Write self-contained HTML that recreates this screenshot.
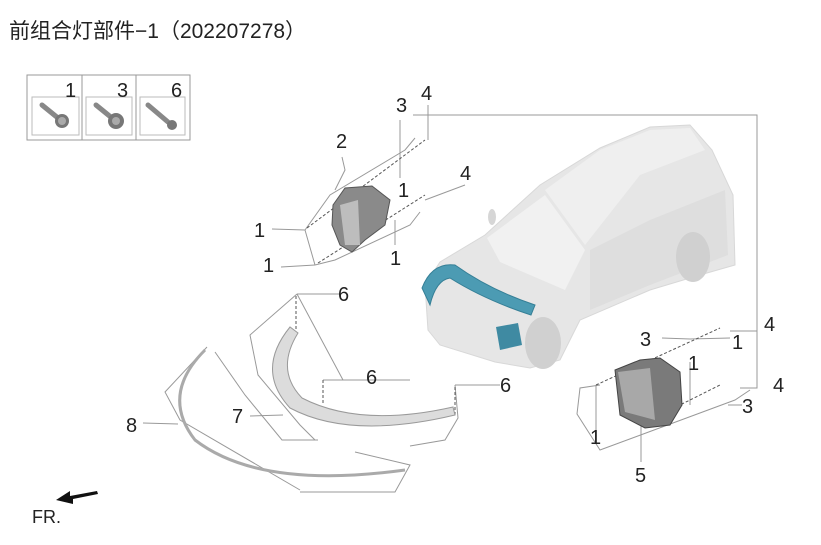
<!DOCTYPE html>
<html><head><meta charset="utf-8"><style>
html,body{margin:0;padding:0;background:#fff;}
svg{display:block;}
text{font-family:"Liberation Sans","Noto Sans CJK SC",sans-serif;fill:#222;}
</style></head><body>
<svg width="821" height="545" viewBox="0 0 821 545" xmlns="http://www.w3.org/2000/svg">
<text x="9" y="38" font-size="21">前组合灯部件−1（202207278）</text>
<!-- legend -->
<rect x="27" y="75" width="163" height="65" fill="none" stroke="#999"/>
<line x1="82" y1="75" x2="82" y2="140" stroke="#999"/>
<line x1="136" y1="75" x2="136" y2="140" stroke="#999"/>
<rect x="32" y="97" width="47" height="38" fill="none" stroke="#bbb"/>
<rect x="86" y="97" width="46" height="38" fill="none" stroke="#bbb"/>
<rect x="140" y="97" width="45" height="38" fill="none" stroke="#bbb"/>
<text x="65" y="97" font-size="20">1</text><text x="117" y="97" font-size="20">3</text><text x="171" y="97" font-size="20">6</text>
<g stroke="#888" stroke-width="5" stroke-linecap="round"><line x1="42" y1="105" x2="58" y2="118"/><line x1="96" y1="105" x2="112" y2="118"/><line x1="148" y1="105" x2="168" y2="122"/></g>
<circle cx="62" cy="121" r="7" fill="#777"/><circle cx="62" cy="121" r="4" fill="#aaa"/>
<circle cx="116" cy="121" r="8" fill="#777"/><circle cx="116" cy="121" r="4" fill="#aaa"/>
<circle cx="172" cy="125" r="5" fill="#777"/>
<!-- car -->
<path d="M425,285 L440,262 L485,235 L540,185 L600,148 L650,127 L690,125 L712,150 L733,195 L735,265 L700,275 L650,290 L580,320 L560,360 L530,368 L495,362 L440,345 L428,330 Z" fill="#e6e6e6" stroke="#d8d8d8"/>
<path d="M487,238 L545,195 L585,250 L565,290 L500,262 Z" fill="#f1f1f1"/>
<path d="M545,190 L600,150 L650,130 L690,128 L705,150 L640,175 L585,245 Z" fill="#efefef"/>
<path d="M590,250 L650,220 L725,190 L728,255 L650,285 L590,310 Z" fill="#dedede"/>
<ellipse cx="693" cy="257" rx="17" ry="25" fill="#d0d0d0"/>
<ellipse cx="543" cy="343" rx="18" ry="26" fill="#d0d0d0"/>
<ellipse cx="492" cy="217" rx="4" ry="8" fill="#d6d6d6"/>
<path d="M422,288 Q432,262 455,265 Q490,290 535,305 L531,315 Q485,300 450,278 Q436,280 430,305 Z" fill="#4c9bb3" stroke="#357f96"/>
<path d="M496,327 L518,323 L522,345 L500,350 Z" fill="#3f8aa2"/>
<!-- frame lines -->
<g fill="none" stroke="#999" stroke-width="1">
<polyline points="413,115 757,115 757,388 740,388"/>
<polyline points="757,331 730,331"/>
<polyline points="730,338 690,339"/>
<polyline points="662,338 690,339"/>
<polyline points="728,405 742,405"/>
<polyline points="335,190 345,170 342,157"/>
<polyline points="400,120 400,150 400,178"/>
<polyline points="428,105 428,140"/>
<polyline points="465,185 425,200"/>
<polyline points="272,229 305,230"/>
<polyline points="281,267 315,265"/>
<polyline points="395,245 395,220"/>
<polyline points="305,230 330,195 405,150 415,138"/>
<polyline points="315,265 335,260 410,225 420,212"/>
<polyline points="305,230 315,265"/>
<polyline points="297,294 340,294"/>
<polyline points="297,294 250,335 258,375 300,425 315,440"/>
<polyline points="297,294 343,380 410,380"/>
<polyline points="323,380 360,380"/>
<polyline points="455,385 500,385"/>
<polyline points="455,385 458,418 445,440 410,446"/>
<polyline points="207,347 165,392 180,420 300,490"/>
<polyline points="215,352 245,395 282,440 318,440"/>
<polyline points="355,452 410,465 395,492 300,492"/>
<polyline points="143,423 178,424"/>
<polyline points="250,416 283,415"/>
<polyline points="600,385 580,388 577,414 600,450 735,400 750,390"/>
<polyline points="596,430 596,385"/>
<polyline points="641,462 641,425"/>
<polyline points="690,362 690,405"/>
</g>
<g fill="none" stroke="#555" stroke-dasharray="3,2">
<line x1="307" y1="228" x2="425" y2="140"/>
<line x1="318" y1="263" x2="425" y2="195"/>
<line x1="596" y1="385" x2="720" y2="328"/>
<line x1="650" y1="420" x2="720" y2="385"/>
<line x1="296" y1="296" x2="296" y2="330"/>
<line x1="323" y1="380" x2="323" y2="405"/>
<line x1="455" y1="387" x2="455" y2="415"/>
</g>
<!-- headlight 2 -->
<path d="M333,205 L345,188 L372,186 L390,200 L385,225 L365,240 L352,252 L340,245 L332,225 Z" fill="#8a8a8a" stroke="#555"/>
<path d="M340,205 L358,200 L360,245 L345,245 Z" fill="#bdbdbd"/>
<!-- headlight 5 -->
<path d="M615,370 L640,360 L660,358 L680,372 L682,405 L670,425 L645,428 L620,415 Z" fill="#7a7a7a" stroke="#444"/>
<path d="M618,372 L650,368 L655,420 L625,412 Z" fill="#a8a8a8"/>
<!-- bumper 7 -->
<path d="M290,327 Q255,370 290,408 Q350,440 455,415 L453,407 Q360,428 302,398 Q275,370 298,333 Z" fill="#dcdcdc" stroke="#9a9a9a"/>
<!-- trim 8 -->
<path d="M205,350 Q160,395 195,440 Q260,490 405,470" fill="none" stroke="#aaa" stroke-width="3"/>
<!-- arrow -->
<path d="M97,491 L70,496 L70,491 L56,500 L73,504 L73,499 L98,494 Z" fill="#111"/>
<g font-size="20">
<text x="396" y="112">3</text><text x="421" y="100">4</text><text x="336" y="148">2</text>
<text x="398" y="197">1</text><text x="460" y="180">4</text><text x="254" y="237">1</text>
<text x="390" y="265">1</text><text x="263" y="272">1</text><text x="338" y="301">6</text>
<text x="366" y="384">6</text><text x="500" y="392">6</text><text x="126" y="432">8</text>
<text x="232" y="423">7</text><text x="640" y="346">3</text><text x="732" y="349">1</text>
<text x="764" y="331">4</text><text x="688" y="370">1</text><text x="773" y="392">4</text>
<text x="742" y="413">3</text><text x="590" y="444">1</text><text x="635" y="482">5</text>
<text x="32" y="523" font-size="18">FR.</text>
</g>
</svg>
</body></html>
